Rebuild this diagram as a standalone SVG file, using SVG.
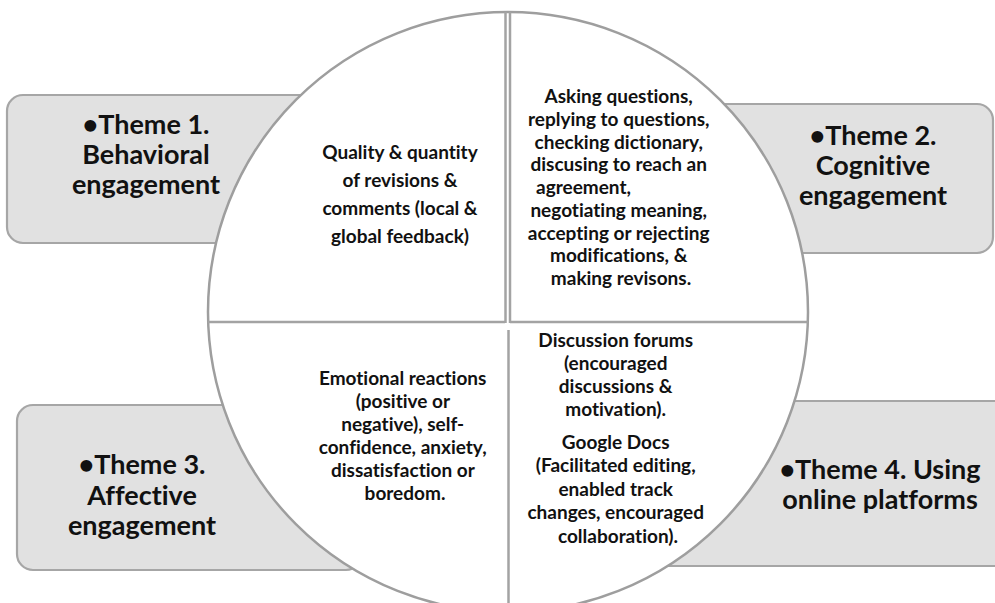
<svg xmlns="http://www.w3.org/2000/svg" width="995" height="603" viewBox="0 0 995 603">
  <style>
    .box { fill: #e1e1e1; stroke: #a6a6a6; stroke-width: 2.2; }
    .disc { fill: #ffffff; stroke: #9e9e9e; stroke-width: 2.5; }
    .div { stroke: #a3a3a3; stroke-width: 2.5; fill: none; }
    text { font-family: Lato, "Liberation Sans", sans-serif; font-weight: bold; fill: #111; text-anchor: middle; font-variant-ligatures: none; font-feature-settings: "liga" 0, "clig" 0; }
    .theme { font-size: 27px; }
    .body { font-size: 19px; }
  </style>

  <!-- corner theme boxes (drawn first, the disc overlaps their inner ends) -->
  <g id="theme1">
    <rect class="box" x="7" y="95" width="340" height="148" rx="16"/>
  </g>
  <g id="theme2">
    <rect class="box" x="670" y="104" width="323" height="149" rx="16"/>
  </g>
  <g id="theme3">
    <rect class="box" x="17" y="405" width="345" height="165" rx="16"/>
  </g>
  <g id="theme4">
    <rect class="box" x="650" y="401" width="400" height="165" rx="16"/>
  </g>

  <!-- central disc split into four quarters -->
  <g id="disc">
    <circle class="disc" cx="508" cy="312" r="300"/>
  </g>
  <g id="connectors">
    <line class="div" x1="505.5" y1="12" x2="505.5" y2="323"/>
    <line class="div" x1="510" y1="12" x2="510" y2="323"/>
    <line class="div" x1="208" y1="322" x2="505" y2="322"/>
    <line class="div" x1="510" y1="322" x2="808" y2="322"/>
    <line class="div" x1="508.5" y1="330" x2="508.5" y2="603" stroke-width="3"/>
  </g>

  <!-- theme labels -->
  <g id="theme1-label">
    <text class="theme"><tspan x="146" y="134">•Theme 1.</tspan><tspan x="146" y="164">Behavioral</tspan><tspan x="146" y="194">engagement</tspan></text>
  </g>
  <g id="theme2-label">
    <text class="theme"><tspan x="873" y="145">•Theme 2.</tspan><tspan x="873" y="175">Cognitive</tspan><tspan x="873" y="205">engagement</tspan></text>
  </g>
  <g id="theme3-label">
    <text class="theme"><tspan x="142" y="474">•Theme 3.</tspan><tspan x="142" y="505">Affective</tspan><tspan x="142" y="535">engagement</tspan></text>
  </g>
  <g id="theme4-label">
    <text class="theme"><tspan x="880" y="479">•Theme 4. Using</tspan><tspan x="880" y="509">online platforms</tspan></text>
  </g>

  <!-- quarter contents -->
  <g id="behavioral-detail">
    <text class="body"><tspan x="400" y="159">Quality &amp; quantity</tspan><tspan x="400" y="187">of revisions &amp;</tspan><tspan x="400" y="215">comments (local &amp;</tspan><tspan x="400" y="243">global feedback)</tspan></text>
  </g>
  <g id="cognitive-detail">
    <text class="body">
      <tspan x="621" y="103">Asking questions,</tspan>
      <tspan x="621" y="126">replying to questions,</tspan>
      <tspan x="621" y="149">checking dictionary,</tspan>
      <tspan x="621" y="171">discusing to reach an</tspan>
      <tspan x="536" y="194" text-anchor="start">agreement,</tspan>
      <tspan x="621" y="217">negotiating meaning,</tspan>
      <tspan x="621" y="240">accepting or rejecting</tspan>
      <tspan x="621" y="262">modifications, &amp;</tspan>
      <tspan x="621" y="285">making revisons.</tspan>
    </text>
  </g>
  <g id="affective-detail">
    <text class="body">
      <tspan x="405" y="385">Emotional reactions</tspan>
      <tspan x="405" y="408">(positive or</tspan>
      <tspan x="405" y="431">negative), self-</tspan>
      <tspan x="405" y="454">confidence, anxiety,</tspan>
      <tspan x="405" y="477">dissatisfaction or</tspan>
      <tspan x="405" y="500">boredom.</tspan>
    </text>
  </g>
  <g id="platforms-detail">
    <text class="body">
      <tspan x="618" y="347">Discussion forums</tspan>
      <tspan x="618" y="370">(encouraged</tspan>
      <tspan x="618" y="393">discussions &amp;</tspan>
      <tspan x="618" y="416">motivation).</tspan>
      <tspan x="618" y="449">Google Docs</tspan>
      <tspan x="618" y="472">(Facilitated editing,</tspan>
      <tspan x="618" y="496">enabled track</tspan>
      <tspan x="618" y="519">changes,  encouraged</tspan>
      <tspan x="618" y="543">collaboration).</tspan>
    </text>
  </g>
</svg>
